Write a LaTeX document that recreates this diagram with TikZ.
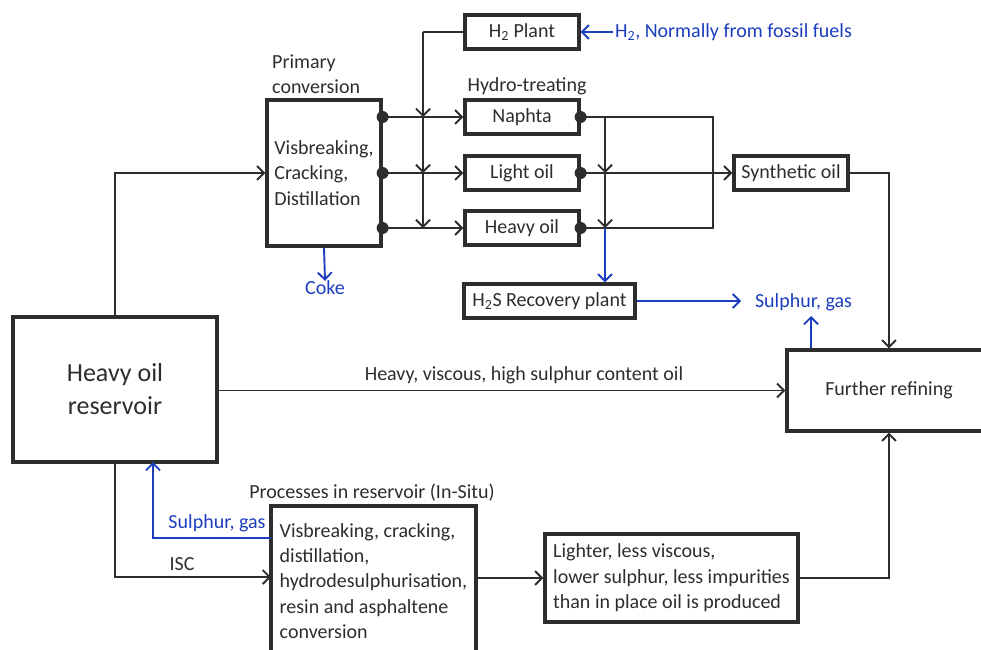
\documentclass[tikz,border=0pt]{standalone}
\usepackage{fontspec}
\setmainfont{Carlito}
\usetikzlibrary{arrows.meta}
\definecolor{ink}{RGB}{45,45,45}
\definecolor{sblue}{RGB}{28,62,190}
\begin{document}
\begin{tikzpicture}[x=1pt,y=-1pt,
  font=\fontsize{20}{25.4}\selectfont, text=ink,
  box/.style={draw=ink, line width=3.2pt, inner sep=0pt},
  con/.style={draw=ink, line width=1.9pt},
  arr/.style={con, -{Straight Barb[length=7pt,width=14pt,line width=1.9pt]}},
  barr/.style={arr, draw=sblue},
  blab/.style={text=sblue, inner sep=0pt},
  lab/.style={inner sep=0pt},
  dot/.style={fill=ink}]
\useasboundingbox (0,0) rectangle (981,649);
% boxes
\node[box, minimum width=204pt, minimum height=145pt, align=center,
  font=\fontsize{26}{33}\selectfont] (res) at (115,389.5) {Heavy oil\\reservoir};
\node[box, minimum width=114pt, minimum height=146pt, align=left] (prim) at (324,173)
  {Visbreaking,\\Cracking,\\Distillation};
\node[box, minimum width=114pt, minimum height=34pt] (h2) at (522,32) {H\textsubscript{2} Plant};
\node[box, minimum width=114pt, minimum height=34pt] (naphta) at (522,117) {Naphta};
\node[box, minimum width=114pt, minimum height=34pt] (light) at (522,173) {Light oil};
\node[box, minimum width=114pt, minimum height=34pt] (heavy) at (522,228) {Heavy oil};
\node[box, minimum width=171pt, minimum height=34pt] (h2s) at (549.5,301) {H\textsubscript{2}S Recovery plant};
\node[box, minimum width=114pt, minimum height=34pt] (syn) at (791,173) {Synthetic oil};
\node[box, minimum width=204pt, minimum height=81pt] (fr) at (889,390.5) {Further refining};
\node[box, minimum width=205pt, minimum height=150pt, align=left] (insitu) at (373.5,581)
  {Visbreaking, cracking,\\distillation,\\hydrodesulphurisation,\\resin and asphaltene\\conversion};
\node[box, minimum width=253pt, minimum height=88pt, align=left] (lighter) at (671.5,578)
  {Lighter, less viscous,\\lower sulphur, less impurities\\than in place oil is produced};
% labels
\node[lab, anchor=west, align=left] (primlab) at (272,74) {Primary\\conversion};
\node[lab] (htlab) at (527,86) {Hydro-treating};
\node[blab, anchor=west] (h2in) at (615,32) {H\textsubscript{2}, Normally from fossil fuels};
\node[blab] (coke) at (325,288) {Coke};
\node[blab] (sg1) at (803.5,302) {Sulphur, gas};
\node[lab] (hvlab) at (524,375) {Heavy, viscous, high sulphur content oil};
\node[lab] (isc) at (182,564) {ISC};
\node[blab] (sg2) at (217,523) {Sulphur, gas};
\node[lab] (pirlab) at (372,493) {Processes in reservoir (In-Situ)};
% coordinates
\coordinate (hv) at (423,32);
\coordinate (sv) at (605,117);
\coordinate (bx) at (713,117);
\coordinate (sgin) at (741,301);
\coordinate (frs) at (811,316);
\coordinate (iscin) at (271,577);
\coordinate (sgout) at (271,538);
\coordinate (sgup) at (153,462);
% connectors
\draw[arr] (res.north) |- (prim.west);
\foreach \b in {naphta,light,heavy}{
  \draw[arr] (prim.east |- \b) -- (\b.west);
}
\draw[con] (h2.west) -- (hv);
\draw[arr] (hv) -- (hv |- naphta);
\draw[arr] (hv |- naphta) -- (hv |- light);
\draw[arr] (hv |- light) -- (hv |- heavy);
\draw[con] (naphta.east) -- (bx) |- (heavy.east);
\draw[arr] (light.east) -- (syn.west);
\draw[arr] (sv) -- (sv |- light);
\draw[arr] (sv |- light) -- (sv |- heavy);
\draw[barr] (sv |- heavy) -- (sv |- h2s.north);
\draw[barr] (h2s.east) -- (sgin);
\draw[barr] (h2in.west) ++(-2,0) -- (h2.east);
\draw[barr] (prim.south) -- (coke.north);
\draw[arr] (syn.east) -| (fr.north);
\draw[barr] (frs |- fr.north) -- (frs);
\draw[arr] (res.east |- fr.west) -- (fr.west);
\draw[arr] (res.south) |- (iscin);
\draw[barr] (sgout) -| (sgup);
\draw[arr] (insitu.east |- lighter.west) -- (lighter.west);
\draw[arr] (lighter.east) -| (fr.south);
% dots
\foreach \p in {prim.east |- naphta, prim.east |- light, prim.east |- heavy,
  naphta.east, light.east, heavy.east}{
  \fill[dot] (\p) circle (6pt);
}
\end{tikzpicture}
\end{document}
